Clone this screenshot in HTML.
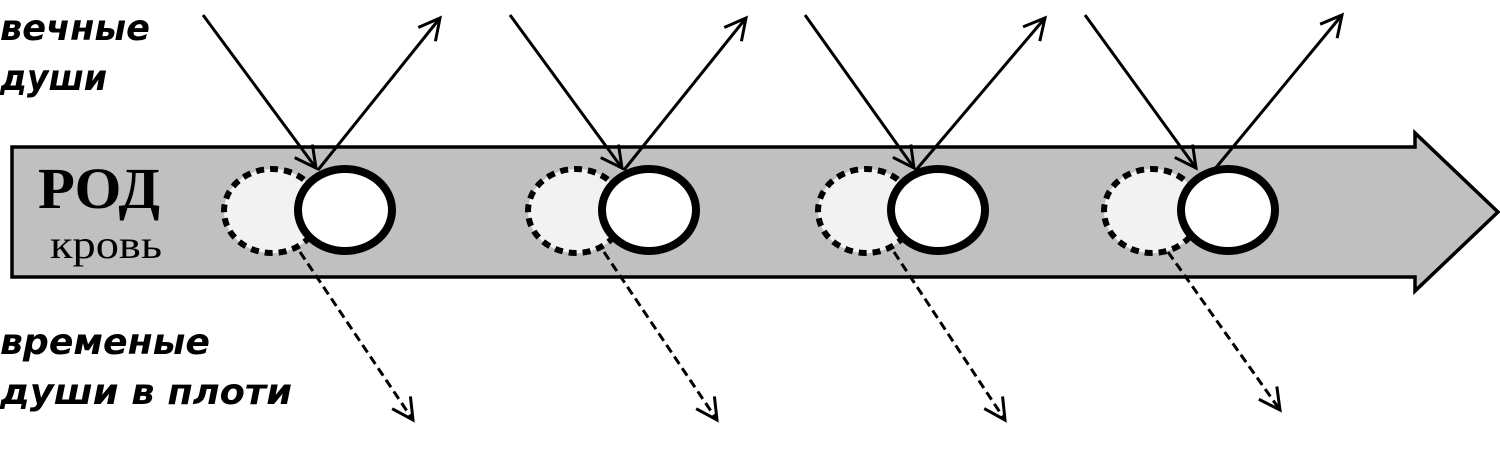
<!DOCTYPE html>
<html><head><meta charset="utf-8"><style>
html,body{margin:0;padding:0;background:#fff;width:1500px;height:466px;overflow:hidden}
</style></head><body>
<svg width="1500" height="466" xmlns="http://www.w3.org/2000/svg">
<defs>
<marker id="b" markerWidth="30" markerHeight="30" refX="24" refY="15" orient="auto" markerUnits="userSpaceOnUse">
<path d="M3,4 L24,15 L3,26" fill="none" stroke="#000" stroke-width="3"/>
</marker>
</defs>
<polygon points="12,147 1415,147 1415,133 1498,212 1415,291 1415,277 12,277" fill="#c0c0c0" stroke="#000" stroke-width="3.5"/>
<g font-family="'DejaVu Sans',sans-serif" font-weight="bold" font-style="italic" font-size="36">
<text x="0" y="40" textLength="150" lengthAdjust="spacingAndGlyphs">вечные</text>
<text x="0" y="90" textLength="107" lengthAdjust="spacingAndGlyphs">души</text>
<text x="0" y="354" textLength="210" lengthAdjust="spacingAndGlyphs">временые</text>
<text x="0" y="404" textLength="292" lengthAdjust="spacingAndGlyphs">души в плоти</text>
</g>
<text x="38" y="208" font-family="'Liberation Serif',serif" font-weight="bold" font-size="58" textLength="122" lengthAdjust="spacingAndGlyphs">РОД</text>
<text x="50" y="258" font-family="'Liberation Serif',serif" font-size="40" textLength="112" lengthAdjust="spacingAndGlyphs">кровь</text>
<g>
<ellipse cx="272" cy="211" rx="48" ry="42" fill="#f2f2f2" stroke="#000" stroke-width="6" stroke-dasharray="8,6"/>
<line x1="203" y1="15" x2="316" y2="168" stroke="#000" stroke-width="3" marker-end="url(#b)"/>
<line x1="318" y1="170" x2="440" y2="18" stroke="#000" stroke-width="3" marker-end="url(#b)"/>
<line x1="300" y1="252" x2="413" y2="420" stroke="#000" stroke-width="3" stroke-dasharray="9,5" marker-end="url(#b)"/>
<ellipse cx="345" cy="210" rx="47" ry="41" fill="#fff" stroke="#000" stroke-width="8"/>
</g>
<g>
<ellipse cx="576" cy="211" rx="48" ry="42" fill="#f2f2f2" stroke="#000" stroke-width="6" stroke-dasharray="8,6"/>
<line x1="510" y1="15" x2="622" y2="168" stroke="#000" stroke-width="3" marker-end="url(#b)"/>
<line x1="624" y1="170" x2="746" y2="18" stroke="#000" stroke-width="3" marker-end="url(#b)"/>
<line x1="604" y1="252" x2="717" y2="420" stroke="#000" stroke-width="3" stroke-dasharray="9,5" marker-end="url(#b)"/>
<ellipse cx="649" cy="210" rx="47" ry="41" fill="#fff" stroke="#000" stroke-width="8"/>
</g>
<g>
<ellipse cx="866" cy="211" rx="48" ry="42" fill="#f2f2f2" stroke="#000" stroke-width="6" stroke-dasharray="8,6"/>
<line x1="805" y1="15" x2="914" y2="168" stroke="#000" stroke-width="3" marker-end="url(#b)"/>
<line x1="916" y1="170" x2="1045" y2="18" stroke="#000" stroke-width="3" marker-end="url(#b)"/>
<line x1="894" y1="252" x2="1005" y2="420" stroke="#000" stroke-width="3" stroke-dasharray="9,5" marker-end="url(#b)"/>
<ellipse cx="938" cy="210" rx="47" ry="41" fill="#fff" stroke="#000" stroke-width="8"/>
</g>
<g>
<ellipse cx="1152" cy="211" rx="48" ry="42" fill="#f2f2f2" stroke="#000" stroke-width="6" stroke-dasharray="8,6"/>
<line x1="1085" y1="15" x2="1196" y2="168" stroke="#000" stroke-width="3" marker-end="url(#b)"/>
<line x1="1214" y1="170" x2="1342" y2="15" stroke="#000" stroke-width="3" marker-end="url(#b)"/>
<line x1="1168" y1="252" x2="1280" y2="410" stroke="#000" stroke-width="3" stroke-dasharray="9,5" marker-end="url(#b)"/>
<ellipse cx="1228" cy="210" rx="47" ry="41" fill="#fff" stroke="#000" stroke-width="8"/>
</g>
</svg>
</body></html>
